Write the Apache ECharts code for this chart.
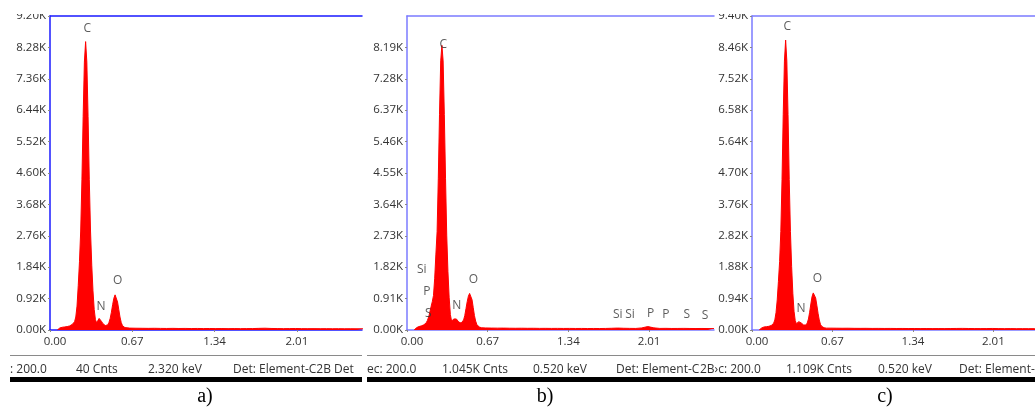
<!DOCTYPE html>
<html>
<head>
<meta charset="utf-8">
<script src="https://cdn.jsdelivr.net/npm/echarts@6/dist/echarts.min.js"></script>
<style>
html,body{margin:0;padding:0;background:#fff;}
#chart{width:1035px;height:407px;}
</style>
</head>
<body>
<div id="chart"></div>
<script>
// ---- data ----
const energies = [
  0.06,0.07,0.08,0.09,0.10,0.11,0.12,0.13,0.14,0.15,
  0.16,0.17,0.18,0.19,0.20,0.21,0.22,0.23,0.24,0.25,
  0.26,0.27,0.28,0.29,0.30,0.31,0.32,0.33,0.34,0.35,
  0.36,0.37,0.38,0.39,0.40,0.41,0.42,0.43,0.44,0.45,
  0.46,0.47,0.48,0.49,0.50,0.51,0.52,0.53,0.54,0.55,
  0.56,0.57,0.58,0.59,0.60,0.61,0.62,
  0.65,0.70,0.75,0.80,0.85,0.90,0.95,1.00,
  1.05,1.10,1.15,1.20,1.25,1.30,1.35,1.40,
  1.45,1.50,1.55,1.60,1.65,1.70,1.75,1.80,
  1.85,1.90,1.95,2.00,2.05,2.10,2.15,2.20,
  2.25,2.30,2.35,2.40,2.45,2.50,2.55
];
const countsA = [
  0,20,60,75,80,85,90,95,100,110,
  120,140,160,190,240,380,700,1300,2000,2900,
  4400,6250,7850,8450,7850,6250,4400,2900,1900,1150,
  600,300,210,280,340,320,250,190,150,130,
  130,150,220,340,520,740,930,1030,980,820,
  600,380,220,130,90,70,60,
  55,52,50,48,50,47,45,48,
  44,46,43,45,42,44,41,43,
  40,42,40,41,42,48,52,45,
  42,40,41,44,40,39,40,38,
  39,37,38,36,37,35,36
];
const countsB = [
  0,40,70,90,100,110,120,130,150,170,
  210,280,380,520,680,820,1000,1500,2200,2850,
  4400,6250,7800,8250,7800,6250,4400,2750,1700,950,
  450,260,280,320,340,320,270,230,200,200,
  220,290,420,620,820,980,1060,1020,880,650,
  420,260,160,110,85,72,65,
  60,56,54,55,52,50,52,49,
  50,47,48,46,47,45,46,44,
  45,43,44,43,45,50,56,50,
  47,45,60,100,62,46,48,44,
  45,47,44,43,44,42,42
];
const countsC = [
  0,30,60,80,90,95,100,105,110,120,
  135,160,200,300,520,900,1450,2050,2950,4500,
  6450,8050,8680,8050,6450,4500,2950,1900,1100,560,
  280,190,220,250,245,210,170,150,145,150,
  210,330,530,780,1000,1110,1120,960,740,500,
  300,170,110,80,68,60,56,
  56,54,52,53,50,49,50,47,
  48,46,47,45,46,44,45,43,
  44,42,43,42,44,46,48,45,
  43,42,43,46,42,41,42,40,
  41,40,40,39,40,38,39
];
const peaksA = [
  {name:'C', value:[0.304, 8840]},
  {name:'N', value:[0.415, 700]},
  {name:'O', value:[0.551, 1440]}
];
const peaksB = [
  {name:'C', value:[0.301, 8280]},
  {name:'Si', value:[0.122, 1740]},
  {name:'P', value:[0.164, 1110]},
  {name:'S', value:[0.177, 480]},
  {name:'N', value:[0.413, 700]},
  {name:'O', value:[0.551, 1450]},
  {name:'Si', value:[1.750, 455]},
  {name:'Si', value:[1.852, 455]},
  {name:'P', value:[2.024, 480]},
  {name:'P', value:[2.149, 460]},
  {name:'S', value:[2.323, 460]},
  {name:'S', value:[2.475, 430]}
];
const peaksC = [
  {name:'C', value:[0.294, 9090]},
  {name:'N', value:[0.408, 650]},
  {name:'O', value:[0.544, 1540]}
];
const yMax = [9200, 9100, 9400];
const yStep = [920, 910, 940];
const xMax = [2.5407, 2.5498, 2.3564];
const xStep = 0.67;
const statusA = [': 200.0', '40 Cnts', '2.320 keV', 'Det: Element-C2B Det'];
const statusB = ['ec: 200.0', '1.045K Cnts', '0.520 keV', 'Det: Element-C'];
const statusC = ['2B\u203Ac: 200.0', '1.109K Cnts', '0.520 keV', 'Det: Element-C'];
const panelNames = ['a)', 'b)', 'c)'];

// ---- layout ----
const grids = [
  {left:50, top:16, width:312, height:314},
  {left:407, top:16, width:307, height:314},
  {left:752, top:16, width:283, height:314}
];
const axisBlue = ['#1a1aff', '#7b7bff', '#7b7bff'];
const FONT = 'Open Sans';
const counts = [countsA, countsB, countsC];
const peaks = [peaksA, peaksB, peaksC];

const xAxes = [], yAxes = [], series = [];
for (let i = 0; i < 3; i++) {
  xAxes.push({
    type:'value', gridIndex:i, position:'bottom', min:0, max:xMax[i], interval:xStep,
    axisLine:{show:true, onZero:false, lineStyle:{color:axisBlue[i], width:1.5}},
    axisTick:{show:true, length:2, lineStyle:{color:'#888'}},
    splitLine:{show:false},
    axisLabel:{
      showMaxLabel:false, margin:6, color:'#333', fontFamily:FONT, fontSize:11.5,
      formatter: v => (Math.abs(v) < 1e-9 ? '{first|0.00}' : (Math.abs(v / xStep - Math.round(v / xStep)) < 1e-6 ? v.toFixed(2) : '')),
      rich:{first:{padding:[0,0,0,10], color:'#333', fontFamily:FONT, fontSize:11.5}}
    }
  });
  xAxes.push({
    type:'value', gridIndex:i, position:'top', min:0, max:xMax[i],
    axisLine:{show:true, onZero:false, lineStyle:{color:axisBlue[i], width:1.5}},
    axisTick:{show:false}, axisLabel:{show:false}, splitLine:{show:false}
  });
  yAxes.push({
    type:'value', gridIndex:i, min:0, max:yMax[i], interval:yStep[i],
    axisLine:{show:true, lineStyle:{color:axisBlue[i], width:1.5}},
    axisTick:{show:true, length:2, lineStyle:{color:'#888'}},
    splitLine:{show:false},
    axisLabel:{
      showMaxLabel: i !== 1, margin:4, color:'#333', fontFamily:FONT, fontSize:11.5,
      formatter: v => (v / 1000).toFixed(2) + 'K'
    }
  });
  series.push({
    type:'line', xAxisIndex:2 * i, yAxisIndex:i,
    data: energies.map((e, k) => [e, counts[i][k]]),
    symbol:'none', clip:true,
    lineStyle:{color:'#ff0000', width:1},
    areaStyle:{color:'#ff0000', opacity:1}
  });
  series.push({
    type:'scatter', xAxisIndex:2 * i, yAxisIndex:i,
    data: peaks[i], symbolSize:1, itemStyle:{color:'rgba(0,0,0,0)'},
    label:{show:true, position:'inside', formatter:'{b}', color:'#333', fontFamily:FONT, fontSize:12},
    z:5
  });
}

// status bar / captions (text, not marks)
const statusX = [[10, 76, 148, 233], [367, 442, 533, 616], [700, 786, 878, 959]];
const statusT = [statusA, statusB, statusC];
const graphics = [];
// mask the clipped top of the y labels
graphics.push({type:'rect', shape:{x:0, y:0, width:49, height:14}, style:{fill:'#fff'}, z:100});
graphics.push({type:'rect', shape:{x:715, y:0, width:36, height:14}, style:{fill:'#fff'}, z:100});
// separator lines
graphics.push({type:'line', shape:{x1:10, y1:355.5, x2:362, y2:355.5}, style:{stroke:'#8a8a8a', lineWidth:1}});
graphics.push({type:'line', shape:{x1:367, y1:355.5, x2:1035, y2:355.5}, style:{stroke:'#8a8a8a', lineWidth:1}});
graphics.push({type:'rect', shape:{x:10, y:377, width:352, height:5}, style:{fill:'#000'}});
graphics.push({type:'rect', shape:{x:367, y:377, width:668, height:5}, style:{fill:'#000'}});
for (let p = 0; p < 3; p++) {
  for (let k = 0; k < 4; k++) {
    graphics.push({type:'text', x:statusX[p][k], y:370, style:{
      text:statusT[p][k], fill:'#333', font:'12px "' + FONT + '"', textVerticalAlign:'middle', textAlign:'left'}, z:10});
  }
}
const capX = [205, 545, 885];
for (let p = 0; p < 3; p++) {
  graphics.push({type:'text', x:capX[p], y:397, style:{
    text:panelNames[p], fill:'#000', font:'20px "Liberation Serif"', textAlign:'center', textVerticalAlign:'middle'}});
}

const chart = echarts.init(document.getElementById('chart'), null, {renderer:'canvas'});
chart.setOption({
  animation:false,
  backgroundColor:'#fff',
  grid: grids,
  xAxis: xAxes,
  yAxis: yAxes,
  series: series,
  graphic: {elements: graphics}
});
</script>
</body>
</html>
